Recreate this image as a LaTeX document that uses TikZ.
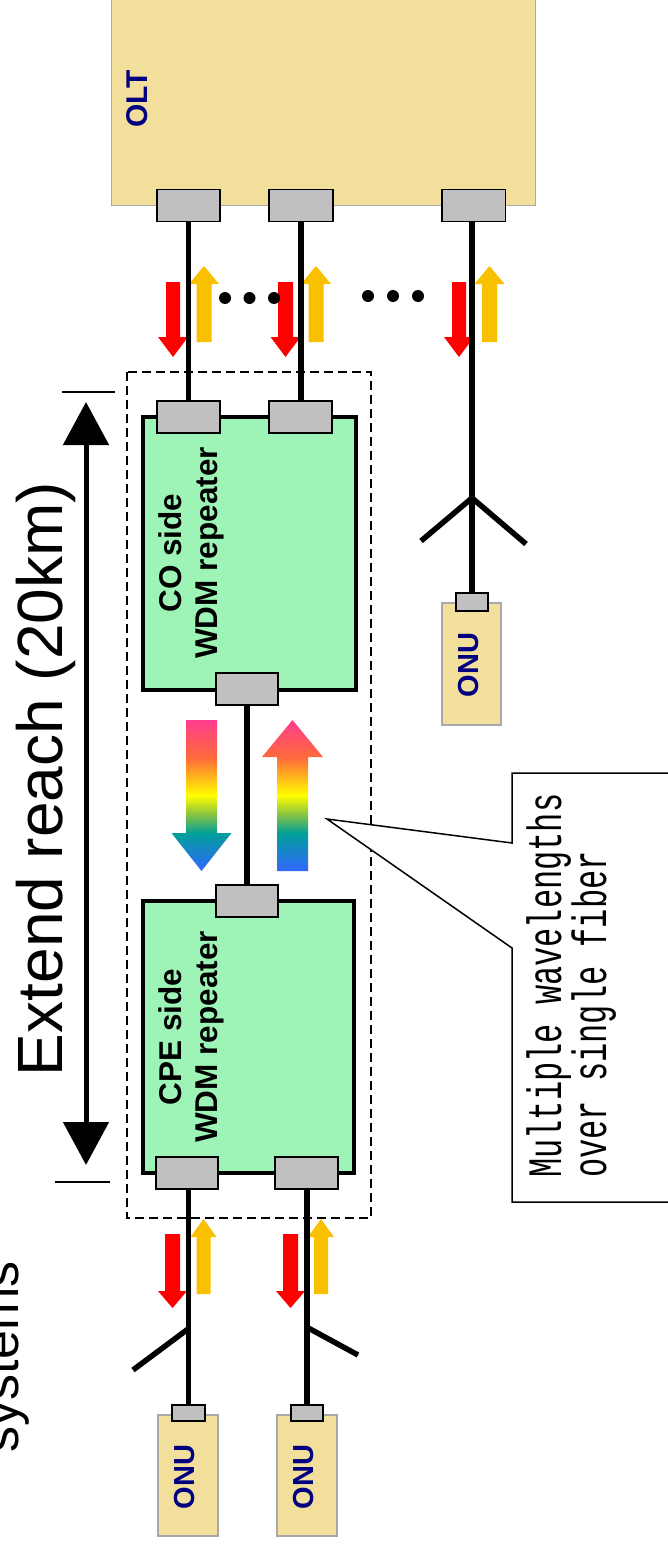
\documentclass[tikz,border=0pt]{standalone}
\usepackage{fontspec}
\setmainfont{Liberation Sans}
\newfontfamily\calloutfont[FakeStretch=0.667]{Liberation Mono}
\usetikzlibrary{arrows.meta}
\definecolor{wheat}{HTML}{F2DF9C}
\definecolor{wheatborder}{HTML}{A8A8A8}
\definecolor{navytext}{HTML}{000080}
\definecolor{portgray}{HTML}{C0C0C0}
\definecolor{repgreen}{HTML}{9EF4B6}
\definecolor{sigred}{HTML}{FF0000}
\definecolor{sigyellow}{HTML}{F9C000}
\definecolor{rbpink}{HTML}{FF3D8F}
\definecolor{rborange}{HTML}{FF6A3A}
\definecolor{rbyellow}{HTML}{FFFF00}
\definecolor{rbgreen}{HTML}{8BC53F}
\definecolor{rbteal}{HTML}{00A099}
\definecolor{rbblue}{HTML}{3366FF}
\pgfdeclareverticalshading{rainbow}{100bp}{color(0bp)=(rbblue); color(25bp)=(rbblue); color(37.5bp)=(rbteal); color(44bp)=(rbgreen); color(50bp)=(rbyellow); color(62.5bp)=(rborange); color(75bp)=(rbpink); color(100bp)=(rbpink)}
\newcommand{\arrDown}[7]{\path[#1] ({#2-#6},#3) -- ({#2+#6},#3) -- ({#2+#6},#4) -- ({#2+#7},#4) -- (#2,#5) -- ({#2-#7},#4) -- ({#2-#6},#4) -- cycle;}
\newcommand{\arrUp}[7]{\path[#1] ({#2-#6},#5) -- ({#2+#6},#5) -- ({#2+#6},#4) -- ({#2+#7},#4) -- (#2,#3) -- ({#2-#7},#4) -- ({#2-#6},#4) -- cycle;}
\tikzset{
  port/.style={draw=black, line width=1.8, fill=portgray, inner sep=0, minimum width=61, minimum height=30},
  smallport/.style={draw=black, line width=1.8, fill=portgray, inner sep=0, minimum width=30, minimum height=15},
  tanbox/.style={draw=wheatborder, line width=1.2, fill=wheat, inner sep=0},
  repbox/.style={draw=black, line width=3.5, fill=repgreen, inner sep=0},
  fiber/.style={line width=5.5},
  dnsig/.style={fill=sigred},
  upsig/.style={fill=sigyellow},
  rb/.style={shading=rainbow},
  navylbl/.style={font=\bfseries\fontsize{29}{34}\selectfont, text=navytext, rotate=90, anchor=base, inner sep=0},
  replbl/.style={font=\bfseries\fontsize{31.5}{36}\selectfont, rotate=90, align=center, inner sep=0},
  calltxt/.style={font=\calloutfont\fontsize{48}{52}\selectfont, rotate=90, anchor=base west, inner sep=0},
  dot/.style={fill=black, circle, inner sep=0, minimum size=12},
}
\begin{document}
\begin{tikzpicture}[x=1pt,y=-1pt]
\useasboundingbox (0,0) rectangle (668,1549);
\fill[white] (0,0) rectangle (668,1549);

% title text fragments
\node[font=\fontsize{64}{70}\selectfont, rotate=90, anchor=base, inner sep=0] (reach) at (62,779) {Extend reach (20km)};
\node[font=\fontsize{52}{60}\selectfont, rotate=90, anchor=base, inner sep=0] (sys) at (18,1357) {systems};

% extend reach arrow
\coordinate (rtop) at (86,402);
\coordinate (rbot) at (86,1165);
\draw[line width=2] (62,392) -- (115,392);
\draw[line width=2] (55,1182) -- (110,1182);
\draw[line width=5, {Triangle[width=45,length=43]}-{Triangle[width=45,length=43]}] (rtop) -- (rbot);

% OLT
\node[tanbox, minimum width=424, minimum height=215, anchor=north west] (olt) at (111,-10) {};
\node[navylbl, font=\bfseries\fontsize{30}{34}\selectfont] (oltlbl) at (147,99) {OLT};

% dashed enclosure
\draw[line width=2, dash pattern=on 9pt off 5pt] (127,372) rectangle (371,1218);

% repeaters
\node[repbox, minimum width=213, minimum height=273] (co) at (249.5,553.5) {};
\node[repbox, minimum width=211, minimum height=272] (cpe) at (248.5,1037) {};
\node[replbl] (colbl) at (191,553) {CO side\\WDM repeater};
\node[replbl] (cpelbl) at (191,1037) {CPE side\\WDM repeater};

% ONUs
\node[tanbox, minimum width=59, minimum height=122] (onuR) at (471.5,664) {};
\node[tanbox, minimum width=60, minimum height=121] (onuA) at (188,1475.5) {};
\node[tanbox, minimum width=60, minimum height=121] (onuB) at (307,1475.5) {};
\node[navylbl] at (478,665) {ONU};
\node[navylbl] at (194,1477) {ONU};
\node[navylbl] at (313,1477) {ONU};

% signal arrows (top)
\arrDown{dnsig}{173}{282}{337}{357}{7}{15}
\arrUp{upsig}{204}{266}{284}{342}{7.5}{15}
\arrDown{dnsig}{285.5}{282}{337}{357}{7.5}{15}
\arrUp{upsig}{316}{266}{284}{342}{7.5}{15}
\arrDown{dnsig}{459}{282}{337}{357}{7}{15}
\arrUp{upsig}{489.5}{266}{284}{342}{7.5}{15}
% signal arrows (bottom)
\arrDown{dnsig}{172.5}{1234}{1291}{1308}{7.5}{14.5}
\arrUp{upsig}{203.5}{1219}{1237}{1294}{7}{13}
\arrDown{dnsig}{290.5}{1234}{1291}{1308}{7.5}{14.5}
\arrUp{upsig}{321}{1219}{1237}{1294}{7}{13}
% rainbow arrows
\arrDown{rb}{201.5}{720}{833}{871}{15.5}{30}
\arrUp{rb}{292.5}{720}{757}{871}{15.5}{30.5}

% dots
\foreach \i/\px/\py in {1/225/298,2/249.5/298,3/274/298,4/368/296,5/393/296,6/418/296}
  \node[dot] (dot\i) at (\px,\py) {};

% splitter points
\coordinate (s1) at (472,498);
\coordinate (s1a) at (421,541);
\coordinate (s1b) at (526,544);
\coordinate (s2) at (188,1329);
\coordinate (s2a) at (133,1370);
\coordinate (s3) at (306.5,1327);
\coordinate (s3a) at (358,1355);

% ports
\node[port, minimum width=61] (olt1) at (188.5,205.5) {};
\node[port, minimum width=62] (olt2) at (301,205.5) {};
\node[port, minimum width=62] (olt3) at (473.5,205.5) {};
\node[port] (co1) at (188.5,417) {};
\node[port] (co2) at (300.5,417) {};
\node[port, minimum width=60] (co3) at (247,689) {};
\node[port, minimum width=60] (cpe0) at (247,901) {};
\node[port, minimum width=60] (cpe1) at (187,1173) {};
\node[port] (cpe2) at (306.5,1173) {};
\node[smallport, minimum height=16] (onuRp) at (472,602) {};
\node[smallport, minimum height=14, minimum width=31] (onuAp) at (188.5,1413) {};
\node[smallport, minimum height=14] (onuBp) at (307,1413) {};

% fibers
\draw[fiber] (olt1.south) -- (co1.north);
\draw[fiber] (olt2.south) -- (olt2.south |- co2.north);
\draw[fiber] (onuRp.north |- olt3.south) -- (onuRp.north);
\draw[fiber] (co3.south) -- (cpe0.north);
\draw[fiber] (onuAp.north |- cpe1.south) -- (onuAp.north);
\draw[fiber] (onuBp.north |- cpe2.south) -- (onuBp.north);
\draw[fiber] (s1) -- (s1a);
\draw[fiber] (s1) -- (s1b);
\draw[fiber] (s2) -- (s2a);
\draw[fiber] (s3) -- (s3a);

% redraw ports on top of fibers
\foreach \n in {olt1,olt2,olt3,co1,co2,co3,cpe0,cpe1,cpe2,onuRp,onuAp,onuBp}
  \draw[black, line width=1.8, fill=portgray] (\n.north west) rectangle (\n.south east);

% callout
\coordinate (tip) at (327,819);
\draw[line width=1.5, fill=white] (512,843) -- (tip) -- (512,948) -- (512,1202) -- (690,1202) -- (690,773) -- (512,773) -- cycle;
\node[calltxt] (c1) at (561,1178) {Multiple wavelengths};
\node[calltxt] (c2) at (606,1178) {over single fiber};
\end{tikzpicture}
\end{document}
